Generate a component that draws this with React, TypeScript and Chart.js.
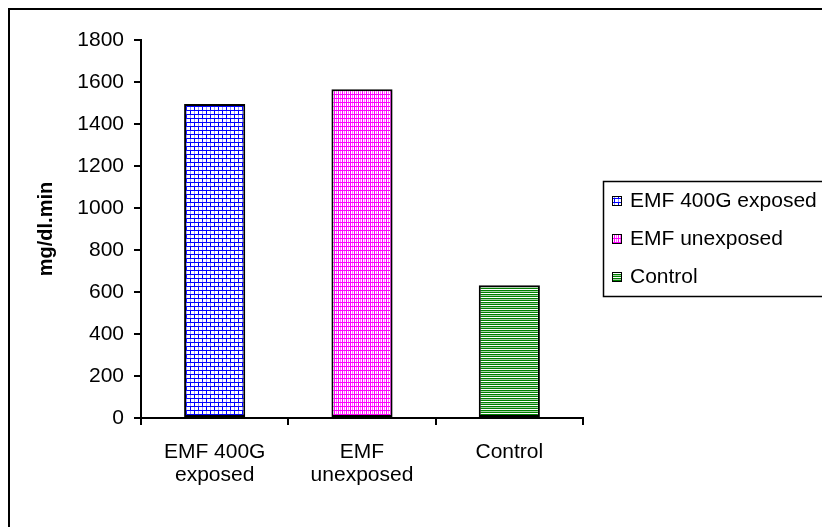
import React, { useEffect, useRef } from "react";
import { Chart, registerables } from "chart.js";

Chart.register(...registerables);

const categories: (string | string[])[] = [["EMF 400G", "exposed"], ["EMF", "unexposed"], "Control"];
const seriesNames = ["EMF 400G exposed", "EMF unexposed", "Control"];
const values = [1495, 1565, 632];
const yMin = 0;
const yMax = 1800;
const yStep = 200;
const yTitle = "mg/dl.min";

const FONT = "'Liberation Sans', Arial, sans-serif";

function makePattern(w: number, h: number, draw: (c: CanvasRenderingContext2D) => void): CanvasPattern | string {
  const cv = document.createElement("canvas");
  cv.width = w;
  cv.height = h;
  const c = cv.getContext("2d")!;
  c.fillStyle = "#ffffff";
  c.fillRect(0, 0, w, h);
  draw(c);
  const ctx = document.createElement("canvas").getContext("2d")!;
  return ctx.createPattern(cv, "repeat") || "#888";
}

function bluePattern() {
  return makePattern(8, 8, (c) => {
    c.fillStyle = "#0000ff";
    c.fillRect(0, 0, 8, 1);
    c.fillRect(0, 4, 8, 1);
    c.fillRect(0, 1, 1, 3);
    c.fillRect(4, 5, 1, 3);
    c.fillStyle = "#9090ff";
    c.fillRect(4, 1, 1, 3);
    c.fillRect(0, 5, 1, 3);
  });
}

function magentaPattern() {
  return makePattern(4, 4, (c) => {
    c.fillStyle = "#ff00ff";
    c.fillRect(0, 0, 4, 1);
    c.fillRect(0, 0, 1, 4);
    c.fillStyle = "#ff70ff";
    c.fillRect(2, 1, 1, 3);
  });
}

function greenPattern() {
  return makePattern(4, 4, (c) => {
    c.fillStyle = "#008000";
    c.fillRect(0, 0, 4, 1);
    c.fillRect(0, 2, 4, 1);
    c.fillStyle = "#a8d0a8";
    c.fillRect(0, 1, 4, 1);
  });
}

export default function App() {
  const ref = useRef<HTMLCanvasElement | null>(null);

  useEffect(() => {
    const canvas = ref.current!;
    const patterns = [bluePattern(), magentaPattern(), greenPattern()];

    const legendPlugin = {
      id: "customLegend",
      afterDraw(chart: any) {
        const ctx = chart.ctx as CanvasRenderingContext2D;
        ctx.save();
        const left = 593;
        const top = 171;
        const h = 115;
        ctx.fillStyle = "#ffffff";
        ctx.fillRect(left, top, 300, h);
        ctx.strokeStyle = "#000000";
        ctx.lineWidth = 1.5;
        ctx.strokeRect(left + 0.5, top + 0.5, 300, h);
        ctx.font = "21px " + FONT;
        ctx.textBaseline = "middle";
        ctx.textAlign = "left";
        seriesNames.forEach((name, i) => {
          const cy = top + 20 + i * 38;
          ctx.fillStyle = patterns[i] as any;
          ctx.fillRect(left + 9, cy - 5, 10, 10);
          ctx.strokeStyle = "#000000";
          ctx.lineWidth = 1;
          ctx.strokeRect(left + 9.5, cy - 4.5, 9, 9);
          ctx.fillStyle = "#000000";
          ctx.fillText(name, left + 27, cy);
        });
        ctx.restore();
      },
    };

    const chart = new Chart(canvas, {
      type: "bar",
      data: {
        labels: categories,
        datasets: [
          {
            label: "values",
            data: values,
            backgroundColor: patterns as any,
            borderColor: "#000000",
            borderWidth: 2,
            borderSkipped: false,
            barPercentage: 0.415,
            categoryPercentage: 1,
          },
        ],
      },
      options: {
        responsive: false,
        animation: false,
        devicePixelRatio: 1,
        layout: { padding: { left: 0, top: 30, right: 239, bottom: 0 } },
        plugins: {
          legend: { display: false },
          tooltip: { enabled: false },
          title: { display: false },
        },
        scales: {
          x: {
            offset: true,
            grid: {
              offset: true,
              drawOnChartArea: false,
              drawTicks: true,
              tickLength: 7,
              color: "#000000",
              lineWidth: 2,
            },
            border: { display: true, color: "#000000", width: 2 },
            ticks: {
              color: "#000000",
              font: { family: FONT, size: 21, lineHeight: 1.1 },
              padding: 16,
              maxRotation: 0,
              autoSkip: false,
            },
            afterFit: (s: any) => {
              s.height = 109;
            },
          },
          y: {
            min: yMin,
            max: yMax,
            grid: {
              drawOnChartArea: false,
              drawTicks: true,
              tickLength: 7,
              color: "#000000",
              lineWidth: 2,
            },
            border: { display: true, color: "#000000", width: 2 },
            ticks: {
              stepSize: yStep,
              color: "#000000",
              font: { family: FONT, size: 21 },
              padding: 10,
              callback: (v: any) => String(v),
            },
            title: {
              display: true,
              text: yTitle,
              color: "#000000",
              font: { family: FONT, size: 20, weight: "bold" },
              padding: { top: 24, bottom: 0 },
            },
            afterFit: (s: any) => {
              s.width = 131;
            },
          },
        },
      },
      plugins: [legendPlugin],
    } as any);

    return () => {
      chart.destroy();
    };
  }, []);

  return (
    <div
      style={{
        position: "fixed",
        left: 8,
        top: 8,
        borderLeft: "2px solid #000",
        borderTop: "2px solid #000",
        width: 812,
        height: 517,
        background: "#fff",
      }}
    >
      <canvas ref={ref} width={812} height={517} style={{ display: "block", width: 812, height: 517 }} />
    </div>
  );
}
